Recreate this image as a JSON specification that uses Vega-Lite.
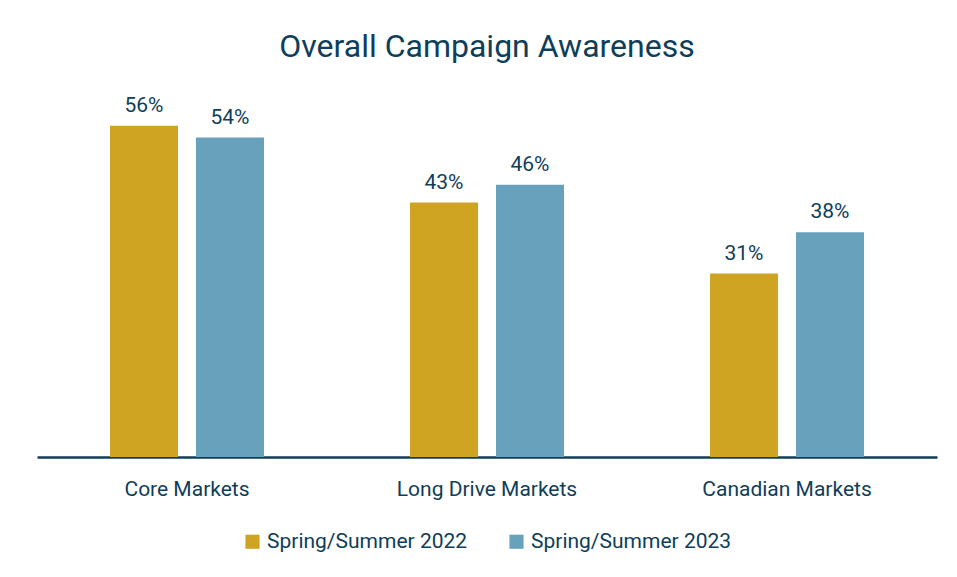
{
  "$schema": "https://vega.github.io/schema/vega-lite/v6.json",
  "width": 900,
  "height": 355,
  "autosize": {"type": "none"},
  "padding": {"left": 37, "top": 102, "right": 20, "bottom": 120},
  "background": "white",
  "title": {
    "text": "Overall Campaign Awareness",
    "font": "Roboto",
    "fontSize": 32,
    "fontWeight": "normal",
    "color": "#0F3E58",
    "anchor": "middle",
    "offset": 31
  },
  "data": {
    "values": [
      {"market": "Core Markets", "period": "Spring/Summer 2022", "value": 0.56},
      {"market": "Core Markets", "period": "Spring/Summer 2023", "value": 0.54},
      {"market": "Long Drive Markets", "period": "Spring/Summer 2022", "value": 0.43},
      {"market": "Long Drive Markets", "period": "Spring/Summer 2023", "value": 0.46},
      {"market": "Canadian Markets", "period": "Spring/Summer 2022", "value": 0.31},
      {"market": "Canadian Markets", "period": "Spring/Summer 2023", "value": 0.38}
    ]
  },
  "encoding": {
    "x": {
      "field": "market",
      "type": "nominal",
      "sort": ["Core Markets", "Long Drive Markets", "Canadian Markets"],
      "scale": {"paddingInner": 0.4867, "paddingOuter": 0.2433},
      "axis": {
        "title": null,
        "labelAngle": 0,
        "ticks": false,
        "domainColor": "#0F3E58",
        "domainWidth": 2.5,
        "labelFont": "Roboto",
        "labelFontSize": 21,
        "labelColor": "#0F3E58",
        "labelLimit": 0,
        "labelPadding": 21
      }
    },
    "xOffset": {
      "field": "period",
      "type": "nominal",
      "scale": {"paddingInner": 0.209, "paddingOuter": 0}
    },
    "y": {
      "field": "value",
      "type": "quantitative",
      "scale": {"domain": [0, 0.6]},
      "axis": null
    }
  },
  "layer": [
    {
      "mark": {"type": "bar"},
      "encoding": {
        "color": {
          "field": "period",
          "type": "nominal",
          "scale": {"range": ["#CFA423", "#67A1BC"]},
          "legend": {
            "title": null,
            "orient": "bottom",
            "direction": "horizontal",
            "symbolType": "square",
            "symbolSize": 200,
            "symbolStrokeWidth": 0,
            "labelFont": "Roboto",
            "labelFontSize": 21,
            "labelColor": "#0F3E58",
            "labelLimit": 0,
            "columnPadding": 38,
            "offset": 32,
            "labelOffset": 4
          }
        }
      }
    },
    {
      "mark": {
        "type": "text",
        "baseline": "bottom",
        "dy": -10,
        "font": "Roboto",
        "fontSize": 21,
        "color": "#0F3E58"
      },
      "encoding": {
        "text": {"field": "value", "type": "quantitative", "format": ".0%"}
      }
    }
  ],
  "config": {
    "view": {"stroke": null},
    "legend": {"layout": {"bottom": {"anchor": "middle"}}}
  }
}
